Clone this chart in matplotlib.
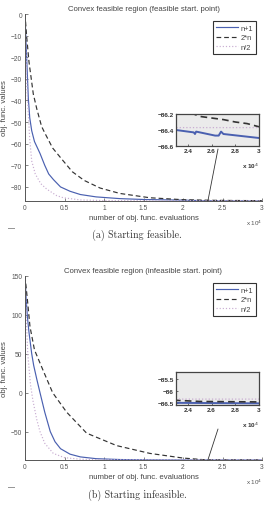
import matplotlib
matplotlib.use("Agg")
import matplotlib.pyplot as plt
import numpy as np

plt.rcParams['font.family'] = ['Liberation Sans', 'DejaVu Sans']

# ---- data ----
labels = ['n+1', '2*n', 'n/2']

# (a) feasible start
a_x_np1 = [0, 150, 300, 420, 600, 850, 1200, 1900, 2500, 3000, 3600, 4500, 5700, 7000, 9000,
           12000, 15000, 20000, 23000, 24500, 24600, 24700, 26300, 26600, 26800, 27000, 30000]
a_y_np1 = [0, -15, -28, -39, -48, -54, -59, -64.5, -70, -74, -76.6, -80, -82, -83.5, -84.6,
           -85.4, -85.8, -86.1, -86.40, -86.43, -86.45, -86.42, -86.47, -86.47, -86.42, -86.45, -86.50]
a_x_2n = [0, 200, 500, 1050, 1500, 2100, 2500, 3500, 4850, 6000, 7500, 9500, 12000, 15800,
          20000, 23000, 24000, 24500, 25000, 26000, 27000, 28000, 29000, 30000]
a_y_2n = [0, -10, -22, -37, -44, -52, -55, -62, -68, -73, -77, -80.5, -83, -85,
          -85.9, -86.12, -86.19, -86.20, -86.23, -86.25, -86.27, -86.30, -86.32, -86.36]
a_x_n2 = [0, 100, 250, 420, 600, 850, 1300, 2000, 2750, 4000, 4850, 7000, 10000, 20000, 30000]
a_y_n2 = [0, -15, -35, -46, -58, -68, -74, -78.5, -81, -84, -85, -86, -86.3, -86.37, -86.37]

# (b) infeasible start
b_x_np1 = [0, 150, 300, 500, 850, 1100, 1500, 1900, 2500, 3200, 3800, 4500, 5700, 7000, 9000,
           12000, 15000, 20000, 30000]
b_y_np1 = [150, 120, 98, 78, 50, 35, 17, 0, -25, -50, -63, -72, -79, -82.5, -84.8,
           -85.9, -86.3, -86.5, -86.53]
b_x_2n = [0, 300, 630, 1200, 2320, 3500, 5270, 7800, 11600, 15800, 20000, 23000, 25000, 30000]
b_y_2n = [150, 120, 85, 55, 28, 0, -25, -52, -68, -78, -84, -86.4, -86.45, -86.47]
b_x_n2 = [0, 150, 350, 700, 1000, 1500, 1900, 2500, 3580, 5000, 7000, 10000, 20000, 30000]
b_y_n2 = [150, 100, 50, 10, -10, -35, -50, -65, -78, -83.5, -85.5, -86.2, -86.35, -86.35]

panels = [
    dict(title='Convex feasible region (feasible start. point)', caption='(a) Starting feasible.',
         series=[(a_x_np1, a_y_np1), (a_x_2n, a_y_2n), (a_x_n2, a_y_n2)],
         ylim=(-86.5, 0), yticks=[0, -10, -20, -30, -40, -50, -60, -70, -80],
         ins_ylim=(-86.6, -86.2), ins_yticks=[-86.2, -86.4, -86.6],
         ins_yticklabels=['\u221286.2', '\u221286.4', '\u221286.6'],
         ax_px=(15, 202), ins_px=(115, 147), link_top=150, cap_y=235),
    dict(title='Convex feasible region (infeasible start. point)', caption='(b) Starting infeasible.',
         series=[(b_x_np1, b_y_np1), (b_x_2n, b_y_2n), (b_x_n2, b_y_n2)],
         ylim=(-86.5, 150), yticks=[150, 100, 50, 0, -50],
         ins_ylim=(-86.6, -85.2), ins_yticks=[-85.5, -86, -86.5],
         ins_yticklabels=['\u221285.5', '\u221286', '\u221286.5'],
         ax_px=(277, 461), ins_px=(373, 406), link_top=430, cap_y=495),
]

colors = ['#4a60b0', '#333333', '#c9aed2']
styles = ['-', (0, (4, 2.5)), ':']

W, H = 265, 506
fig = plt.figure(figsize=(W / 100, H / 100), dpi=100)

for p in panels:
    top, bot = p['ax_px']
    ax = fig.add_axes([25 / W, 1 - bot / H, 237 / W, (bot - top) / H])
    for (xs, ys), c, ls, lab in zip(p['series'], colors, styles, labels):
        ax.plot(np.array(xs) / 1e4, ys, color=c, ls=ls, lw=0.85, label=lab)
    ax.set_xlim(0, 3)
    ax.set_ylim(*p['ylim'])
    ax.set_xticks([0, 0.5, 1, 1.5, 2, 2.5, 3])
    ax.set_xticklabels(['0', '0.5', '1', '1.5', '2', '2.5', '3'])
    ax.set_yticks(p['yticks'])
    for s in ['top', 'right']:
        ax.spines[s].set_visible(False)
    for s in ['left', 'bottom']:
        ax.spines[s].set_color('#555555')
        ax.spines[s].set_linewidth(0.7)
    ax.tick_params(direction='in', length=2, width=0.5, labelsize=4.8, colors='#555555',
                   labelcolor='#555555', pad=2)
    ax.set_title(p['title'], fontsize=5.6, color='#444444', pad=3)
    ax.set_xlabel('number of obj. func. evaluations', fontsize=5.6, color='#444444', labelpad=2)
    ax.set_ylabel('obj. func. values', fontsize=5.6, color='#444444')
    ax.yaxis.set_label_coords(-0.072, 0.5)
    ax.text(1.0, -0.09, r'x 10$^4$', transform=ax.transAxes, ha='right', va='top',
            fontsize=4.5, color='#555555')
    leg = ax.legend(loc='upper right', fontsize=5.4, handlelength=3.0, handletextpad=0.3,
                    borderpad=0.4, labelspacing=0.3, fancybox=False, framealpha=1,
                    bbox_to_anchor=(0.99, 0.98))
    leg.get_frame().set_edgecolor('#333333')
    leg.get_frame().set_linewidth(0.8)
    for t in leg.get_texts():
        t.set_color('#444444')

    # inset zoom on the tail
    itop, ibot = p['ins_px']
    ins = fig.add_axes([176 / W, 1 - ibot / H, 83 / W, (ibot - itop) / H])
    ins.set_facecolor('#ebebeb')
    for (xs, ys), c, ls, lw in zip(p['series'], colors, styles, [1.4, 1.2, 0.9]):
        ins.plot(np.array(xs) / 1e4, ys, color=c, ls=ls, lw=lw)
    ins.set_xlim(2.3, 3.0)
    ins.set_ylim(*p['ins_ylim'])
    ins.set_xticks([2.4, 2.6, 2.8, 3.0])
    ins.set_xticklabels(['2.4', '2.6', '2.8', '3'])
    ins.set_yticks(p['ins_yticks'])
    ins.set_yticklabels(p['ins_yticklabels'])
    for s in ins.spines.values():
        s.set_color('#444444')
        s.set_linewidth(0.9)
    ins.tick_params(direction='in', length=1.5, width=0.5, labelsize=4.6, colors='#333333',
                    pad=1.5)
    for t in ins.get_xticklabels() + ins.get_yticklabels():
        t.set_fontweight('bold')
    ins.text(1.0, -0.45, r'x 10$^4$', transform=ins.transAxes, ha='right', va='top',
             fontsize=4.6, color='#333333', fontweight='bold')

    # pointer line from the tail to the inset
    ax.annotate('', xy=(2.315, p['ylim'][0]), xycoords='data',
                xytext=(218 / W, 1 - p['link_top'] / H), textcoords='figure fraction',
                arrowprops=dict(arrowstyle='-', color='#333333', lw=0.6,
                                shrinkA=0, shrinkB=0))

    fig.text(12 / W, 1 - (bot + 27) / H, '\u2014', fontsize=5, color='#333333',
             ha='center', va='center')
    fig.text(137 / W, 1 - p['cap_y'] / H, p['caption'], fontsize=7.2, family='cmr10',
             color='#333333', ha='center', va='center')

fig.savefig('out.png', dpi=100)
